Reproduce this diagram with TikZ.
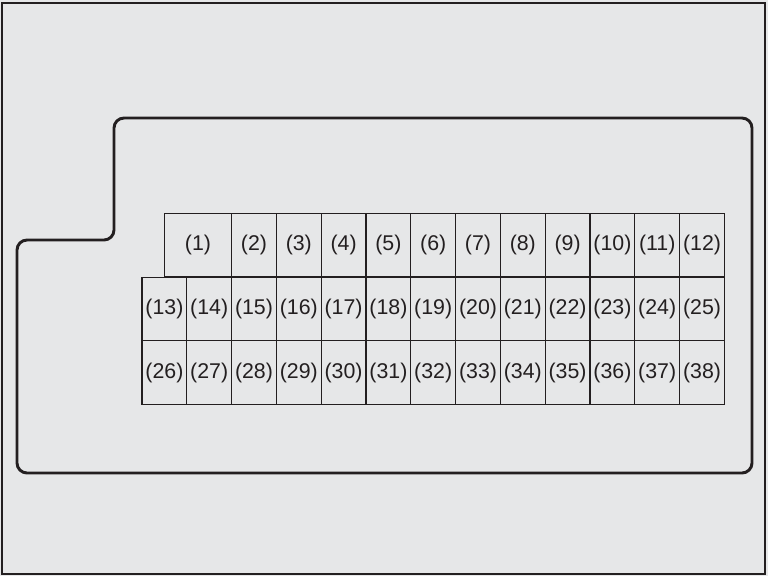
\documentclass[tikz,border=0pt]{standalone}
\usepackage{fontspec}
\setmainfont{Liberation Sans}
\definecolor{panelgrey}{HTML}{E6E7E8}
\definecolor{inkgrey}{HTML}{231F20}
\tikzset{
  cell/.style={draw=inkgrey, line width=0.9pt, inner sep=0pt, minimum width=33.6pt,
    minimum height=47.8pt, text=inkgrey, font=\fontsize{16}{16}\selectfont},
  widecell/.style={cell, minimum width=50.7pt}
}

\begin{document}
\begin{tikzpicture}[x=0.75pt, y=-0.75pt]
			%%%%% START %%%%%
			
			\fill[panelgrey] (0, 0) rectangle (768, 576);
			\useasboundingbox (0, 0) rectangle (768, 576);
			
			\draw[line width=1.5pt, color=inkgrey] (2, 3) rectangle (765, 574);
			
			\draw[rounded corners=7.5pt, line width=2.2pt, color=inkgrey]
				(17, 350) -- (17, 240) -- (114, 240) -- (114, 118) -- (752, 118)
				-- (752, 473) -- (17, 473) -- cycle;
			
			% top row
			\node[widecell] (c1) at (198, 245) {(1)};
			\foreach \i in {2,...,12}
				\node[cell] (c\i) at ({164.4+44.8*\i}, 245) {(\i)};
			
			% middle and bottom rows
			\foreach \i in {0,...,12} {
				\pgfmathtruncatemacro{\m}{13+\i}
				\pgfmathtruncatemacro{\b}{26+\i}
				\node[cell] (c\m) at ({164.4+44.8*\i}, 309) {(\m)};
				\node[cell] (c\b) at ({164.4+44.8*\i}, 372.5) {(\b)};
			}
			
			%%%%% END %%%%%
		\end{tikzpicture}
\end{document}
